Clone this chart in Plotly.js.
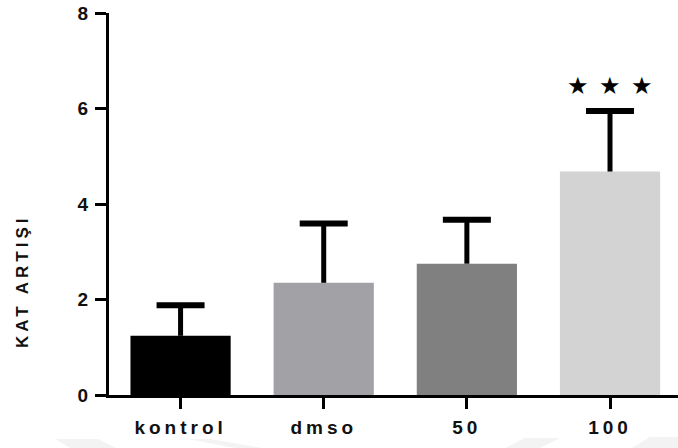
<!DOCTYPE html>
<html>
<head>
<meta charset="utf-8">
<script src="https://cdn.plot.ly/plotly-3.0.1.min.js"></script>
<style>
  html, body { margin: 0; padding: 0; background: #fff; }
  #chart { width: 678px; height: 448px; }
  .xtick text { letter-spacing: 4px; }
</style>
</head>
<body>
<div id="chart"></div>
<script>
// Data
const categories = ['kontrol', 'dmso', '50', '100'];
const means = [1.24, 2.35, 2.75, 4.68];
const errUpper = [0.64, 1.24, 0.92, 1.27];
const barColors = ['#000000', '#a2a1a6', '#808080', '#d3d3d3'];
const yTickVals = [0, 2, 4, 6, 8];
const yTitle = 'KAT ARTIŞI';
const sigCategory = '100';
const sigLevel = 6.47;
const sigMark = '★';

const fontFam = '"Liberation Sans", Arial, sans-serif';

// bars + error stems (upper side only)
const barTrace = {
  type: 'bar',
  x: categories,
  y: means,
  width: 0.7,
  marker: { color: barColors, line: { width: 0 } },
  error_y: {
    type: 'data',
    symmetric: false,
    array: errUpper,
    arrayminus: errUpper.map(() => 0),
    color: '#000000',
    thickness: 5,
    width: 0
  },
  hoverinfo: 'none'
};

// caps at the top of each error bar
const capTops = means.map((m, i) => m + errUpper[i]);
const capTrace = {
  type: 'scatter',
  mode: 'markers',
  x: categories,
  y: capTops,
  marker: { size: 1, opacity: 0 },
  error_y: {
    type: 'data',
    array: capTops.map(() => 0),
    color: '#000000',
    thickness: 6,
    width: 24
  },
  hoverinfo: 'none'
};

const sigIndex = categories.indexOf(sigCategory);
const starShifts = [-32, 0, 32];
const annotations = starShifts.map(s => ({
  x: sigIndex, y: sigLevel, xref: 'x', yref: 'y',
  text: sigMark, showarrow: false, xshift: s,
  font: { family: '"DejaVu Sans", sans-serif', size: 24, color: '#000' }
}));
annotations.push({
  xref: 'paper', yref: 'paper', x: -0.172, y: 0.174,
  text: yTitle, textangle: -90, showarrow: false,
  font: { family: fontFam, size: 17, color: '#111' }
});

// faint background watermark fragments along the bottom edge (pixel -> paper)
const L = 109, W = 569, B = 395, H = 382;
function poly(pts) {
  return 'M' + pts.map(p => ((p[0] - L) / W).toFixed(4) + ',' + ((B - p[1]) / H).toFixed(4)).join(' L') + ' Z';
}
const wm = [
  [[55, 439], [98, 439], [116, 448], [70, 448]],
  [[188, 439], [210, 439], [262, 448], [235, 448]],
  [[525, 438], [560, 438], [540, 448], [505, 448]],
  [[650, 437], [678, 437], [678, 448], [632, 448]]
];
const shapes = wm.map(p => ({
  type: 'path', xref: 'paper', yref: 'paper', path: poly(p),
  fillcolor: '#f3f3f3', line: { width: 0 }, layer: 'below'
}));

const layout = {
  width: 678, height: 448,
  margin: { l: 109, r: 0, t: 13, b: 53 },
  paper_bgcolor: '#ffffff',
  plot_bgcolor: 'rgba(0,0,0,0)',
  showlegend: false,
  bargap: 0.3,
  xaxis: {
    type: 'category',
    range: [-0.5, 3.475],
    showline: true, linewidth: 3, linecolor: '#000',
    ticks: 'outside', ticklen: 11, tickwidth: 3, tickcolor: '#000',
    showgrid: false, zeroline: false,
    tickfont: { family: fontFam, size: 19, color: '#111', weight: 'bold' },
    ticklabelstandoff: 2
  },
  yaxis: {
    range: [0, 8],
    tickvals: yTickVals,
    showline: true, linewidth: 3, linecolor: '#000',
    ticks: 'outside', ticklen: 11, tickwidth: 3, tickcolor: '#000',
    showgrid: false, zeroline: false,
    tickfont: { family: fontFam, size: 19, color: '#111', weight: 'bold' },
    ticklabelstandoff: 3
  },
  annotations: annotations,
  shapes: shapes
};

Plotly.newPlot('chart', [barTrace, capTrace], layout, { displayModeBar: false, staticPlot: true }).then(() => {
  document.querySelectorAll('.annotation-text').forEach(t => {
    if (t.textContent === yTitle) {
      t.style.letterSpacing = '4px';
      t.style.fontWeight = 'bold';
    }
  });
});
</script>
</body>
</html>
